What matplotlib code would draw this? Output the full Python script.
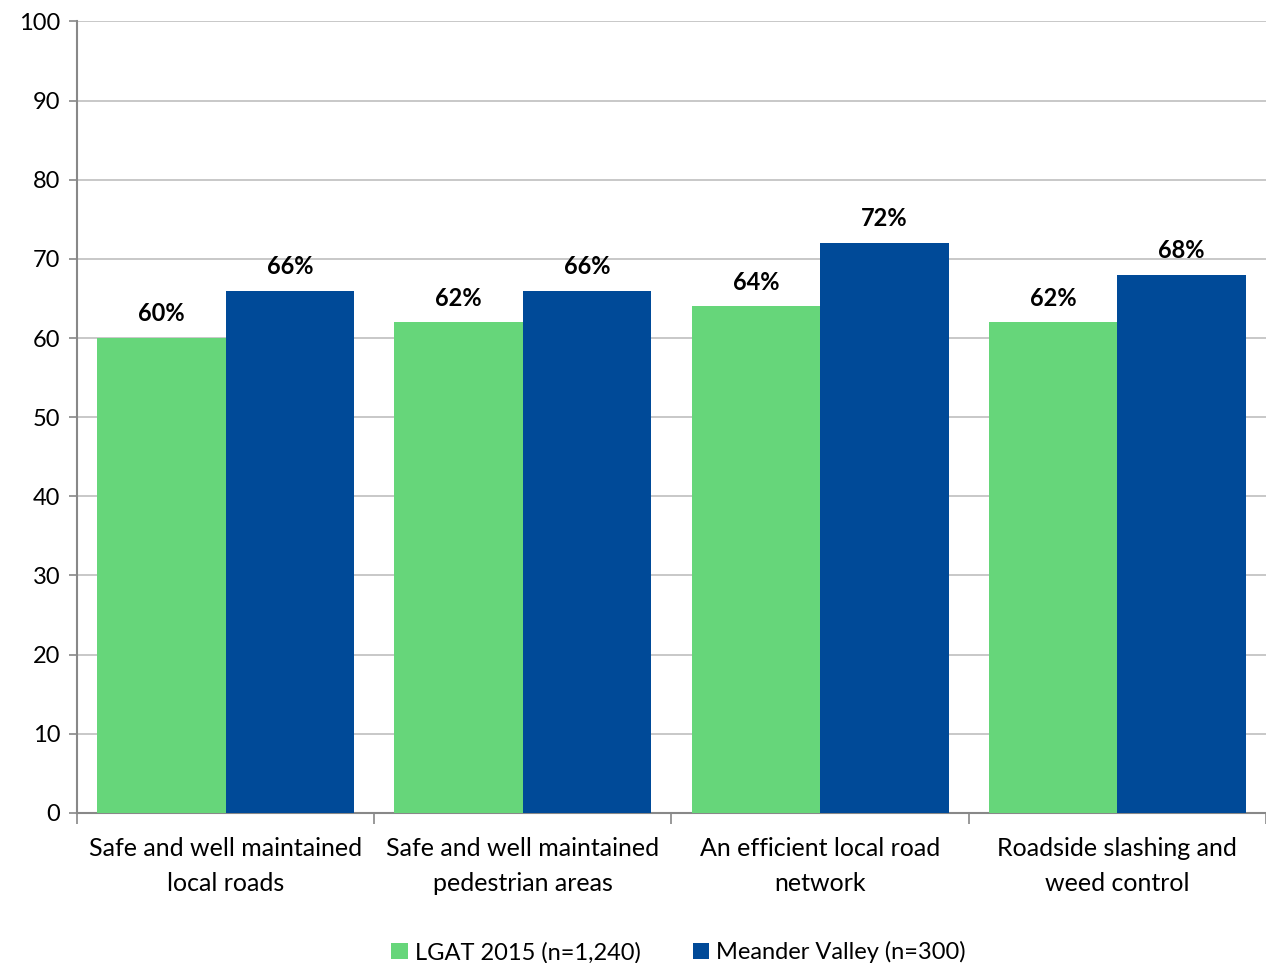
import numpy as np
import matplotlib.pyplot as plt

plt.rcParams['font.family'] = ['Lato', 'DejaVu Sans']

categories = ["Safe and well maintained\nlocal roads",
              "Safe and well maintained\npedestrian areas",
              "An efficient local road\nnetwork",
              "Roadside slashing and\nweed control"]
lgat = [60, 62, 64, 62]
meander = [66, 66, 72, 68]
series_names = ["LGAT 2015 (n=1,240)", "Meander Valley (n=300)"]

green = '#66D67A'
blue = '#004A98'
axis_col = '#888888'

fig = plt.figure(figsize=(12.66, 9.63), dpi=100)
ax = fig.add_axes([0.0608, 0.1558, 0.9392, 0.822])

x = np.arange(len(categories))
w = 0.432
b1 = ax.bar(x - w/2, lgat, w, color=green, label=series_names[0], zorder=3)
b2 = ax.bar(x + w/2, meander, w, color=blue, label=series_names[1], zorder=3)

for bars, vals in ((b1, lgat), (b2, meander)):
    for r, v in zip(bars, vals):
        ax.text(r.get_x() + r.get_width()/2, v + 1.6, '%d%%' % v,
                ha='center', va='bottom', fontsize=17, fontweight='bold')

ax.set_xlim(-0.5, len(categories) - 0.5)
ax.set_ylim(0, 100)
ax.set_yticks(range(0, 101, 10))
ax.yaxis.grid(True, color='#BFBFBF', linewidth=1.2, zorder=0)
ax.tick_params(axis='y', labelsize=17, length=6, color=axis_col, width=1.2, pad=6)

ax.set_xticks(x)
ax.set_xticklabels(categories, fontsize=18, linespacing=1.65)
ax.tick_params(axis='x', length=0, pad=17)
ax.set_xticks(np.arange(-0.5, len(categories), 1.0), minor=True)
ax.tick_params(axis='x', which='minor', length=8, color=axis_col, width=1.2)

for s in ['top', 'right']:
    ax.spines[s].set_visible(False)
for s in ['left', 'bottom']:
    ax.spines[s].set_color(axis_col)
    ax.spines[s].set_linewidth(1.5)

ax.legend(loc='upper center', bbox_to_anchor=(0.506, -0.135), ncol=2, frameon=False,
          fontsize=17, handlelength=0.7, handleheight=0.7, handletextpad=0.3,
          columnspacing=2.2)

plt.savefig("out.png", dpi=100)
